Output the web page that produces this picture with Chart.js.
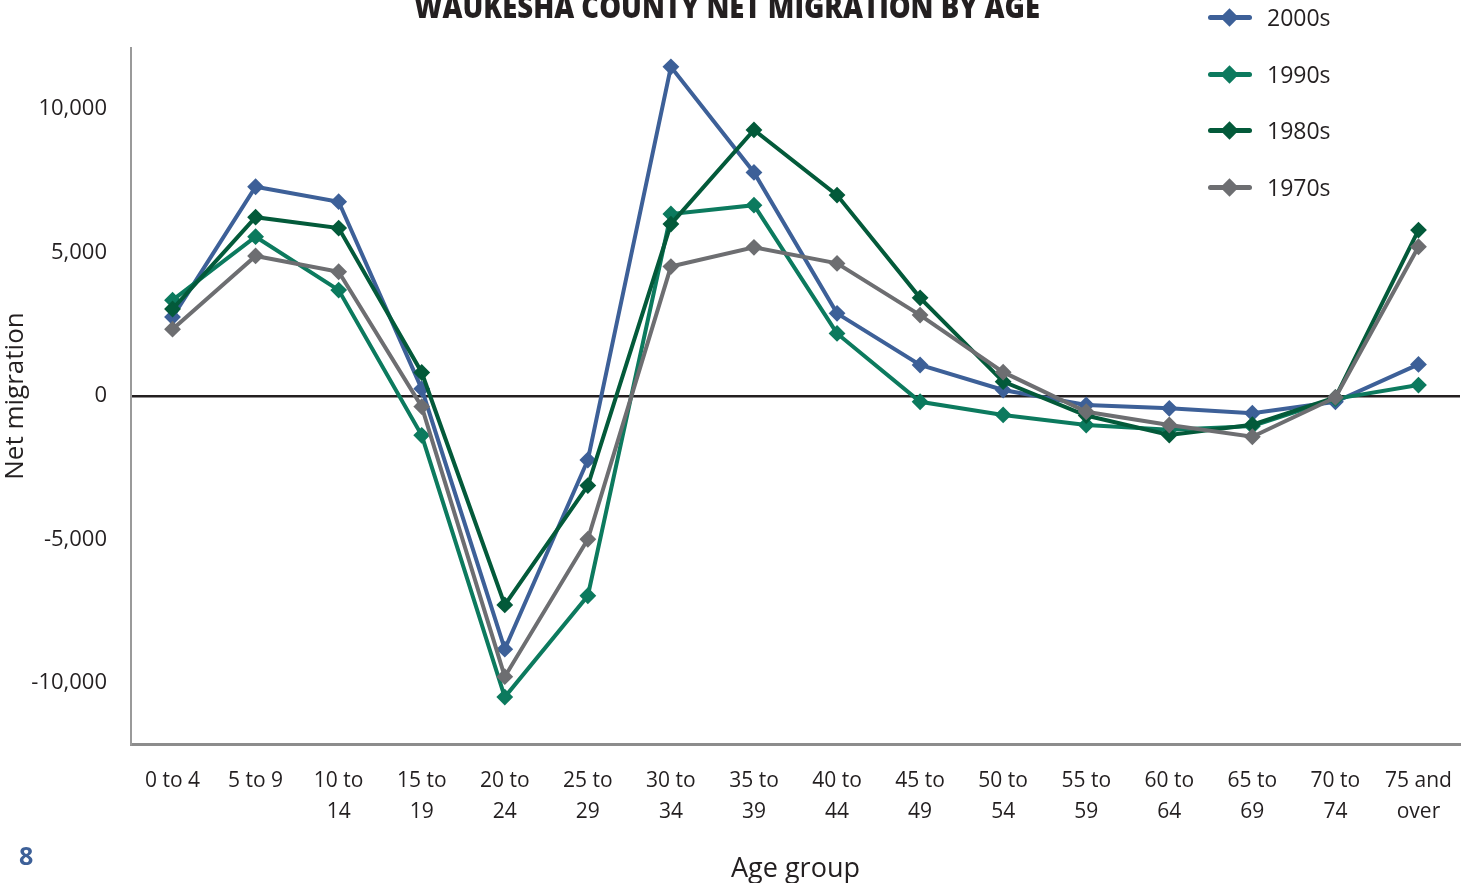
<!DOCTYPE html>
<html lang="en">

<head>
    <meta charset="UTF-8">
    <title>Waukesha County Net Migration by Age</title>
    <style>
        body {
            margin: 0;
            padding: 0;
            background: #fff;
            font-family: "Open Sans", Arial, sans-serif;
            color: #231f20;
        }

        #wrap {
            position: relative;
            width: 1476px;
            height: 883px;
            overflow: hidden;
        }

        #title {
            position: absolute;
            left: 727px;
            top: -16px;
            font-size: 32px;
            font-weight: 800;
            white-space: nowrap;
            transform-origin: 0 0;
        }

        #legend {
            position: absolute;
            left: 1206px;
            top: 0;
        }

        .item {
            position: absolute;
            left: 0;
            height: 30px;
            width: 200px;
        }

        .item .ln {
            position: absolute;
            left: 2px;
            top: 12px;
            width: 44px;
            height: 5px;
            border-radius: 3px;
        }

        .item .dm {
            position: absolute;
            left: 17px;
            top: 8px;
            width: 13px;
            height: 13px;
            transform: rotate(45deg);
        }

        .item span {
            position: absolute;
            left: 61px;
            top: -2px;
            font-size: 23px;
        }

        #page {
            position: absolute;
            left: 19px;
            top: 838px;
            font-size: 25px;
            font-weight: 700;
            color: #3d6098;
        }
    </style>
    <script src="https://cdn.jsdelivr.net/npm/chart.js"></script>
</head>

<body>
    <div id="wrap">
        <canvas id="chart" width="1476" height="883"></canvas>
        <div id="title">WAUKESHA COUNTY NET MIGRATION BY AGE</div>
        <div id="legend"></div>
        <div id="page">8</div>
    </div>

    <script>
        const ageGroups = [['0 to 4'], ['5 to 9'], ['10 to', '14'], ['15 to', '19'], ['20 to', '24'], ['25 to', '29'],
            ['30 to', '34'], ['35 to', '39'], ['40 to', '44'], ['45 to', '49'], ['50 to', '54'], ['55 to', '59'],
            ['60 to', '64'], ['65 to', '69'], ['70 to', '74'], ['75 and', 'over']];

        const seriesNames = ['2000s', '1990s', '1980s', '1970s'];
        const seriesColors = ['#3d6098', '#0c7a5e', '#035a3a', '#6d6e71'];

        const v2000s = [2750, 7290, 6770, 250, -8820, -2230, 11470, 7790, 2880, 1080, 210, -310, -430, -600, -200, 1100];
        const v1990s = [3340, 5550, 3690, -1370, -10490, -6960, 6340, 6650, 2180, -200, -660, -1010, -1180, -1050, -100, 380];
        const v1980s = [3030, 6230, 5850, 820, -7280, -3120, 5990, 9270, 7000, 3420, 500, -680, -1360, -1000, -50, 5780];
        const v1970s = [2330, 4880, 4330, -370, -9780, -4990, 4510, 5180, 4620, 2820, 830, -550, -1010, -1420, -50, 5200];

        const yTicks = [-10000, -5000, 0, 5000, 10000];
        const yMin = -12125;
        const yMax = 12125;

        const allValues = [v2000s, v1990s, v1980s, v1970s];

        // title squeezed to the condensed width of the original
        const title = document.getElementById('title');
        const tw = title.getBoundingClientRect().width;
        const sx = 626 / tw;
        title.style.transform = 'scaleX(' + sx + ') translateX(-50%)';

        // legend
        const legend = document.getElementById('legend');
        seriesNames.forEach(function (name, i) {
            const it = document.createElement('div');
            it.className = 'item';
            it.style.top = (3 + i * 56.7) + 'px';
            it.innerHTML = '<div class="ln" style="background:' + seriesColors[i] + '"></div>' +
                '<div class="dm" style="background:' + seriesColors[i] + '"></div>' +
                '<span>' + name + '</span>';
            legend.appendChild(it);
        });

        const datasets = seriesNames.map(function (name, i) {
            return {
                label: name,
                data: allValues[i],
                borderColor: seriesColors[i],
                backgroundColor: seriesColors[i],
                borderWidth: 4,
                pointStyle: 'rectRot',
                pointRadius: 7,
                pointBorderWidth: 2,
                tension: 0,
                order: 4 - i
            };
        });

        const ctx = document.getElementById('chart').getContext('2d');
        new Chart(ctx, {
            type: 'line',
            data: {
                labels: ageGroups,
                datasets: datasets
            },
            options: {
                responsive: false,
                animation: false,
                layout: {
                    padding: { top: 48, right: 16, bottom: 0, left: 0 }
                },
                plugins: {
                    legend: { display: false },
                    tooltip: { enabled: false }
                },
                scales: {
                    x: {
                        offset: true,
                        grid: { display: false, drawTicks: false },
                        border: { display: true, color: '#8c8c8c', width: 3 },
                        ticks: {
                            color: '#231f20',
                            padding: 21,
                            maxRotation: 0,
                            autoSkip: false,
                            font: { family: 'Open Sans', size: 21, lineHeight: 1.5 }
                        },
                        title: {
                            display: true,
                            text: 'Age group',
                            color: '#231f20',
                            padding: 0,
                            font: { family: 'Open Sans', size: 27, lineHeight: 1.0 }
                        },
                        afterFit: function (scale) { scale.height = 139; }
                    },
                    y: {
                        min: yMin,
                        max: yMax,
                        afterBuildTicks: function (scale) {
                            scale.ticks = yTicks.map(function (v) { return { value: v }; });
                        },
                        grid: {
                            drawTicks: false,
                            color: function (c) { return c.tick && c.tick.value === 0 ? '#231f20' : 'rgba(0,0,0,0)'; },
                            lineWidth: 2.5
                        },
                        border: { display: true, color: '#9a9a9a', width: 2 },
                        ticks: {
                            color: '#231f20',
                            padding: 24,
                            font: { family: 'Open Sans', size: 22 },
                            callback: function (v) { return v.toLocaleString('en-US'); }
                        },
                        title: {
                            display: true,
                            text: 'Net migration',
                            color: '#231f20',
                            padding: { top: 0, bottom: 0 },
                            font: { family: 'Open Sans', size: 26 }
                        },
                        afterFit: function (scale) { scale.width = 131; }
                    }
                }
            }
        });
    </script>
</body>

</html>
